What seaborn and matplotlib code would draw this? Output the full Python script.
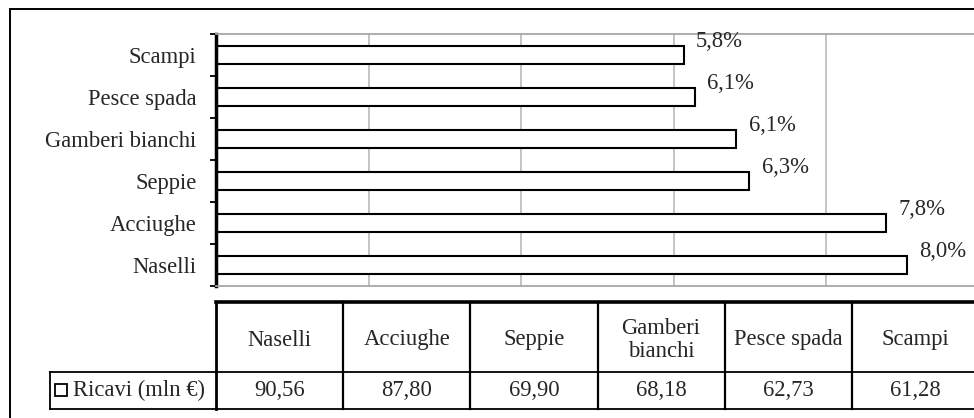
import numpy as np
import matplotlib
matplotlib.use("Agg")
import matplotlib.pyplot as plt
from matplotlib.patches import Rectangle
import seaborn as sns

# dati
specie = ["Naselli", "Acciughe", "Seppie", "Gamberi bianchi", "Pesce spada", "Scampi"]
ricavi = [90.56, 87.80, 69.90, 68.18, 62.73, 61.28]          # mln €
quota = ["8,0%", "7,8%", "6,3%", "6,1%", "6,1%", "5,8%"]
intestazioni = ["Naselli", "Acciughe", "Seppie", "Gamberi\nbianchi", "Pesce spada", "Scampi"]
serie = "Ricavi (mln €)"

sns.set_theme(style="white")
plt.rcParams["font.family"] = ["Liberation Serif", "DejaVu Serif"]
FS = 16.3

W, H = 974, 418
fig = plt.figure(figsize=(W / 100, H / 100), dpi=100)

def px(x0, y0, x1, y1):
    # rettangolo in pixel (origine in alto a sinistra) -> coordinate figura
    return [x0 / W, (H - y1) / H, (x1 - x0) / W, (y1 - y0) / H]

# cornice esterna
fig.patches.append(Rectangle((10 / W, -0.1), 1.2, (H - 9) / H + 0.1,
                             transform=fig.transFigure, fill=False,
                             edgecolor="black", lw=1.4))

# grafico a barre
ax = fig.add_axes(px(216, 34, 979, 286))
ordine = specie[::-1]
sns.barplot(x=ricavi, y=specie, order=ordine, color="white", saturation=1,
            edgecolor="black", linewidth=1.5, width=0.41, ax=ax)
ax.set_xlim(0, 100)
ax.set_xticks([0, 20, 40, 60, 80, 100])
ax.xaxis.grid(True, color="#bfbfbf", lw=1.3)
ax.set_axisbelow(True)
ax.tick_params(axis="x", length=0, labelbottom=False)
ax.tick_params(axis="y", which="major", length=0, pad=14, labelsize=FS)
ax.set_yticks(np.arange(-0.5, len(specie), 1), minor=True)
ax.tick_params(axis="y", which="minor", length=4.5, width=1.3, color="black", left=True)
for s in ["top", "bottom", "right"]:
    ax.spines[s].set_color("#a6a6a6")
    ax.spines[s].set_linewidth(1.3)
ax.spines["left"].set_color("black")
ax.spines["left"].set_linewidth(2.5)
ax.set_xlabel("")
ax.set_ylabel("")

for i, sp in enumerate(ordine):
    k = specie.index(sp)
    ax.annotate(quota[k], (ricavi[k], i), xytext=(9, 10), textcoords="offset points",
                ha="left", va="center", fontsize=FS)

# tabella dati
tab = fig.add_axes(px(216, 302, 979, 409))
tab.set_xlim(0, len(specie))
tab.set_ylim(0, 107)
tab.axis("off")
hr = 37      # altezza riga valori
xl = -166 / (763 / len(specie))   # bordo sinistro cella etichetta

def linea(xs, ys, lw):
    tab.plot(xs, ys, color="black", lw=lw, clip_on=False, solid_capstyle="projecting")

linea([0, len(specie)], [107, 107], 2.6)
linea([xl, len(specie)], [hr, hr], 1.3)
linea([xl, len(specie)], [0, 0], 1.3)
linea([xl, xl], [0, hr], 1.3)
linea([0, 0], [0, 107], 2.0)
for j in range(1, len(specie)):
    linea([j, j], [0, 107], 1.6)

for j, (h, v) in enumerate(zip(intestazioni, ricavi)):
    tab.text(j + 0.5, (hr + 107) / 2 - 3, h, ha="center", va="center",
             fontsize=FS, linespacing=1.12)
    tab.text(j + 0.5, hr / 2, f"{v:.2f}".replace(".", ","), ha="center",
             va="center", fontsize=FS)

# voce di legenda nella cella etichetta
tab.plot([xl + 0.09], [hr / 2 + 1], marker="s", ms=8, mfc="white", mec="black",
         mew=1.3, clip_on=False)
tab.text(xl + 0.18, hr / 2, serie, ha="left", va="center", fontsize=FS)

fig.savefig("out.png", dpi=100)
